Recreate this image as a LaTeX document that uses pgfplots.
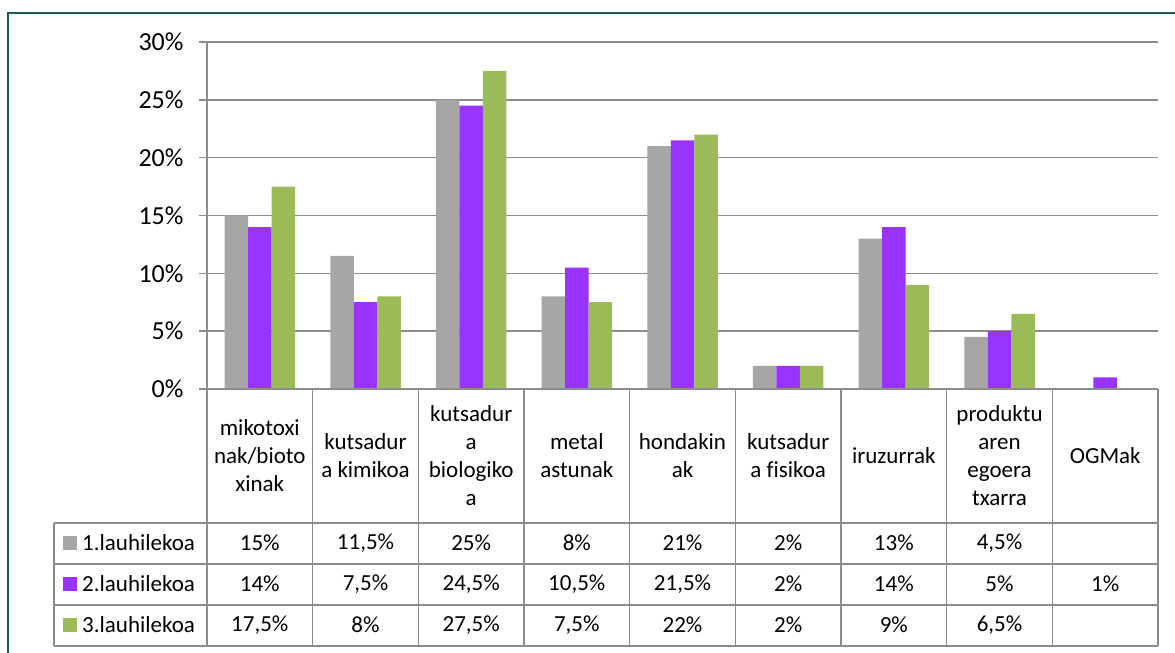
\documentclass[border=0pt]{standalone}
\usepackage{fontspec}
\setmainfont[Ligatures=NoCommon]{Carlito}
\usepackage{pgfplots}
\pgfplotsset{compat=1.18}
\definecolor{sgray}{HTML}{A6A6A6}
\definecolor{spurple}{HTML}{9933FF}
\definecolor{sgreen}{HTML}{9BBB59}
\definecolor{gridc}{HTML}{8C8C8C}
\definecolor{framec}{HTML}{17604A}
\newcommand\cell[3]{\node at (#1,#2) {#3};}
\begin{document}
\begin{tikzpicture}[x=1pt,y=1pt]
\path[use as bounding box] (0,0) rectangle (1175,653);
\begin{axis}[
  at={(207pt,264pt)}, anchor=south west,
  scale only axis, width=951pt, height=347pt,
  xmin=-0.5, xmax=8.5, ymin=0, ymax=30,
  ybar=0pt, bar width=23.5pt,
  axis x line=none,
  axis y line*=left,
  y axis line style={gridc, line width=1.5pt},
  ytick={0,5,10,15,20,25,30},
  yticklabels={0\%,5\%,10\%,15\%,20\%,25\%,30\%},
  yticklabel style={font=\fontsize{26}{30}\selectfont, xshift=-12pt},
  ymajorgrids, grid style={gridc, line width=1.5pt},
  tick style={gridc, line width=1.5pt},
  major tick length=8pt, tick align=outside,
  xtick=\empty,
  clip=false,
]
\addplot[fill=sgray, draw=none] coordinates {(0,15) (1,11.5) (2,25) (3,8) (4,21) (5,2) (6,13) (7,4.5)};
\addplot[fill=spurple, draw=none] coordinates {(0,14) (1,7.5) (2,24.5) (3,10.5) (4,21.5) (5,2) (6,14) (7,5) (8,1)};
\addplot[fill=sgreen, draw=none] coordinates {(0,17.5) (1,8) (2,27.5) (3,7.5) (4,22) (5,2) (6,9) (7,6.5)};
\end{axis}
% table lines
\begin{scope}[gridc, line width=1.5pt]
\foreach \k in {0,...,9} {
  \draw ({207+105.667*\k},264) -- ({207+105.667*\k},7);
}
\draw (207,264) -- (1158,264);
\foreach \yy in {130,89,48,7} {
  \draw (54,\yy) -- (1158,\yy);
}
\draw (54,130) -- (54,7);
\end{scope}
% header labels
\begin{scope}[every node/.style={align=center, font=\fontsize{23}{28}\selectfont, inner sep=0pt}]
\node at (259.8,197) {mikotoxi\\nak/bioto\\xinak};
\node at (365.5,197) {kutsadur\\a kimikoa};
\node at (471.2,197) {kutsadur\\a\\biologiko\\a};
\node at (576.8,197) {metal\\astunak};
\node at (682.5,197) {hondakin\\ak};
\node at (788.2,197) {kutsadur\\a fisikoa};
\node at (893.8,197) {iruzurrak};
\node at (999.5,197) {produktu\\aren\\egoera\\txarra};
\node at (1105.2,197) {OGMak};
% legend column
\fill[sgray] (63,103) rectangle (77,117);
\fill[spurple] (63,62) rectangle (77,76);
\fill[sgreen] (63,21) rectangle (77,35);
\node[anchor=west] at (82,110) {1.lauhilekoa};
\node[anchor=west] at (82,69) {2.lauhilekoa};
\node[anchor=west] at (82,28) {3.lauhilekoa};
% values
\cell{259.8}{110}{15\%}   \cell{259.8}{69}{14\%}   \cell{259.8}{28}{17,5\%}
\cell{365.5}{110}{11,5\%} \cell{365.5}{69}{7,5\%}  \cell{365.5}{28}{8\%}
\cell{471.2}{110}{25\%}   \cell{471.2}{69}{24,5\%} \cell{471.2}{28}{27,5\%}
\cell{576.8}{110}{8\%}    \cell{576.8}{69}{10,5\%} \cell{576.8}{28}{7,5\%}
\cell{682.5}{110}{21\%}   \cell{682.5}{69}{21,5\%} \cell{682.5}{28}{22\%}
\cell{788.2}{110}{2\%}    \cell{788.2}{69}{2\%}    \cell{788.2}{28}{2\%}
\cell{893.8}{110}{13\%}   \cell{893.8}{69}{14\%}   \cell{893.8}{28}{9\%}
\cell{999.5}{110}{4,5\%}  \cell{999.5}{69}{5\%}    \cell{999.5}{28}{6,5\%}
\cell{1105.2}{69}{1\%}
\end{scope}
% outer frame
\draw[framec, line width=2pt] (8,-10) -- (8,640) -- (1190,640);
\end{tikzpicture}
\end{document}
